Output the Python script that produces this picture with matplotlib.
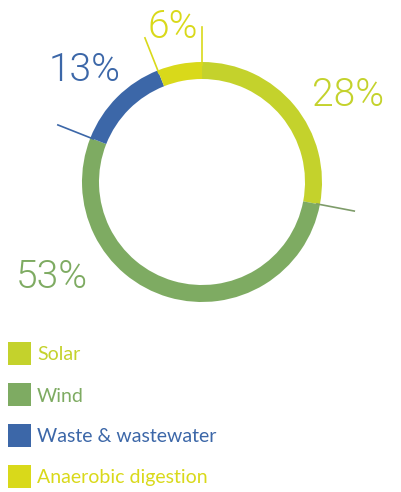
import numpy as np
import matplotlib
matplotlib.use("Agg")
import matplotlib.pyplot as plt

# data
categories = ["Solar", "Wind", "Waste & wastewater", "Anaerobic digestion"]
shares = [28, 53, 13, 6]
colors = ["#c4d22c", "#7eab62", "#3c67a8", "#d9d91a"]
line_colors = ["#c4d22c", "#7e9c6a", "#3c67a8", "#d9d91a"]

W, H = 401, 492
fig = plt.figure(figsize=(W / 100, H / 100), dpi=100)
ax = fig.add_axes([0, 0, 1, 1])
ax.set_xlim(0, W); ax.set_ylim(0, H)
ax.set_aspect("equal"); ax.axis("off")

cx, cy, R, ring = 202, H - 182, 120, 17
ax.pie(shares, colors=colors, startangle=90, counterclock=False,
       center=(cx, cy), radius=R, wedgeprops=dict(width=ring, linewidth=0))
ax.set_xlim(0, W); ax.set_ylim(0, H)

# leader ticks at segment boundaries (clockwise from 12 o'clock)
bounds = np.cumsum([0] + shares[:-1]) / 100.0
tick_cols = [colors[3], line_colors[1], colors[2], colors[3]]
for b, c in zip(bounds, tick_cols):
    a = np.pi / 2 - 2 * np.pi * b
    ax.plot([cx + (R - 3) * np.cos(a), cx + 155 * np.cos(a)],
            [cy + (R - 3) * np.sin(a), cy + 155 * np.sin(a)], color=c, lw=1.2)

big = dict(family=["Roboto", "DejaVu Sans"], fontweight=300)
small = dict(family=["Lato", "DejaVu Sans"], fontweight="normal")
label_pos = [(348, 95), (52, 277), (85, 70), (173, 27)]
for (x, y), s, c in zip(label_pos, shares, colors):
    ax.text(x, H - y, f"{s}%", color=c, fontsize=28, ha="center", va="center", **big)

# legend
for i, (name, c) in enumerate(zip(categories, colors)):
    y = 354 + i * 41
    ax.add_patch(plt.Rectangle((8, H - y - 11), 23, 23, color=c, lw=0))
    ax.text(37, H - y - 1, name, color=c, fontsize=14, ha="left", va="center", **small)

fig.savefig("out.png", dpi=100)
